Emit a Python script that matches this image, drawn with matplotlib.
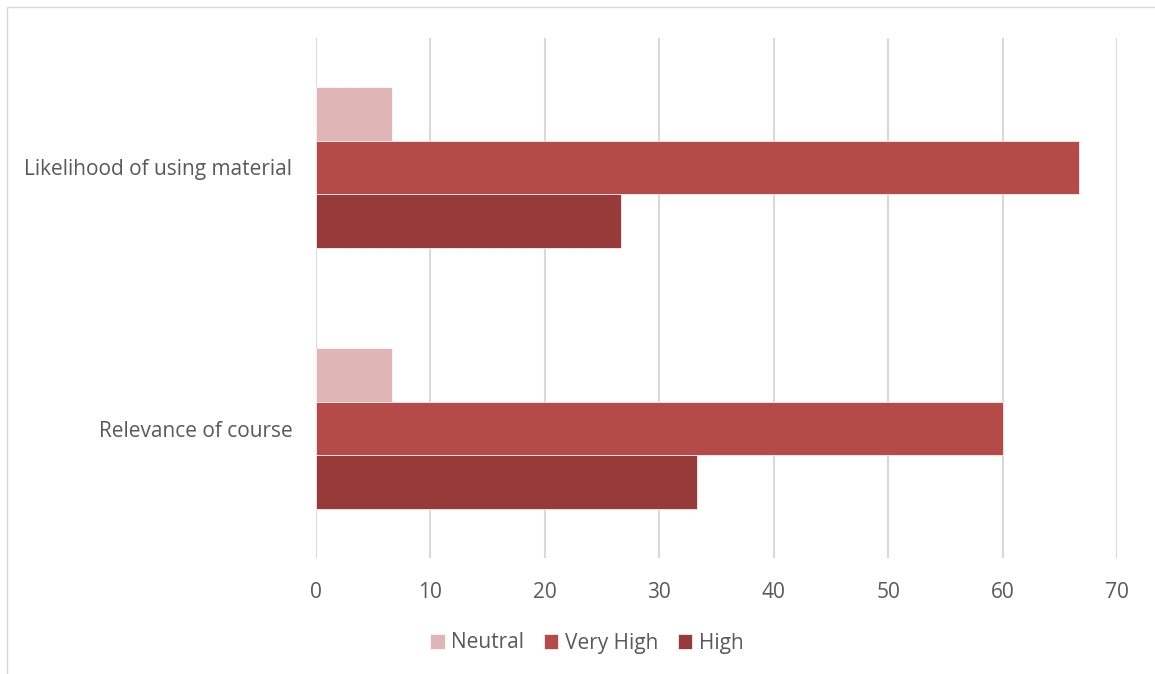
import matplotlib.pyplot as plt
import matplotlib.patches as patches
import numpy as np

plt.rcParams['font.family'] = ['Open Sans', 'DejaVu Sans']

categories = ['Relevance of course', 'Likelihood of using material']
series_names = ['Neutral', 'Very High', 'High']
neutral = [6.67, 6.67]
very_high = [60.0, 66.67]
high = [33.33, 26.67]
colors = ['#DFB6B5', '#B44B48', '#963B3A']
ticks = [0, 10, 20, 30, 40, 50, 60, 70]

text_color = '#595959'
grid_color = '#D9D9D9'

fig = plt.figure(figsize=(11.55, 6.74), dpi=100)
ax = fig.add_axes([316 / 1155, 1 - 558 / 674, 801 / 1155, 520 / 674])

y = np.arange(len(categories))
h = 0.205
offsets = [h, 0, -h]
for vals, name, col, off in zip([neutral, very_high, high], series_names, colors, offsets):
    ax.barh(y + off, vals, height=h, color=col, label=name,
            edgecolor='white', linewidth=0.5, zorder=3)

ax.set_xlim(0, 70)
ax.set_ylim(-0.496, 1.496)
ax.set_xticks(ticks)
ax.set_yticks(y)
ax.set_yticklabels(categories)
ax.tick_params(axis='both', length=0, labelsize=15, colors=text_color)
ax.tick_params(axis='x', pad=17)
ax.tick_params(axis='y', pad=17)
ax.xaxis.grid(True, color=grid_color, linewidth=1.5, zorder=0)
ax.set_axisbelow(True)
for s in ax.spines.values():
    s.set_visible(False)

# chart border (cropped on right and bottom)
fig.patches.append(patches.Rectangle((7 / 1155, -0.1), 1.2, 1.1 - 7.5 / 674,
                                     transform=fig.transFigure, fill=False,
                                     edgecolor='#D9D9D9', linewidth=1))

fig.legend(loc='center', bbox_to_anchor=(0.508, 1 - 643 / 674), ncol=3,
           frameon=False, fontsize=15, labelcolor=text_color,
           handlelength=0.7, handleheight=0.7, handletextpad=0.3,
           columnspacing=0.95)

fig.savefig('out.png', dpi=100)
